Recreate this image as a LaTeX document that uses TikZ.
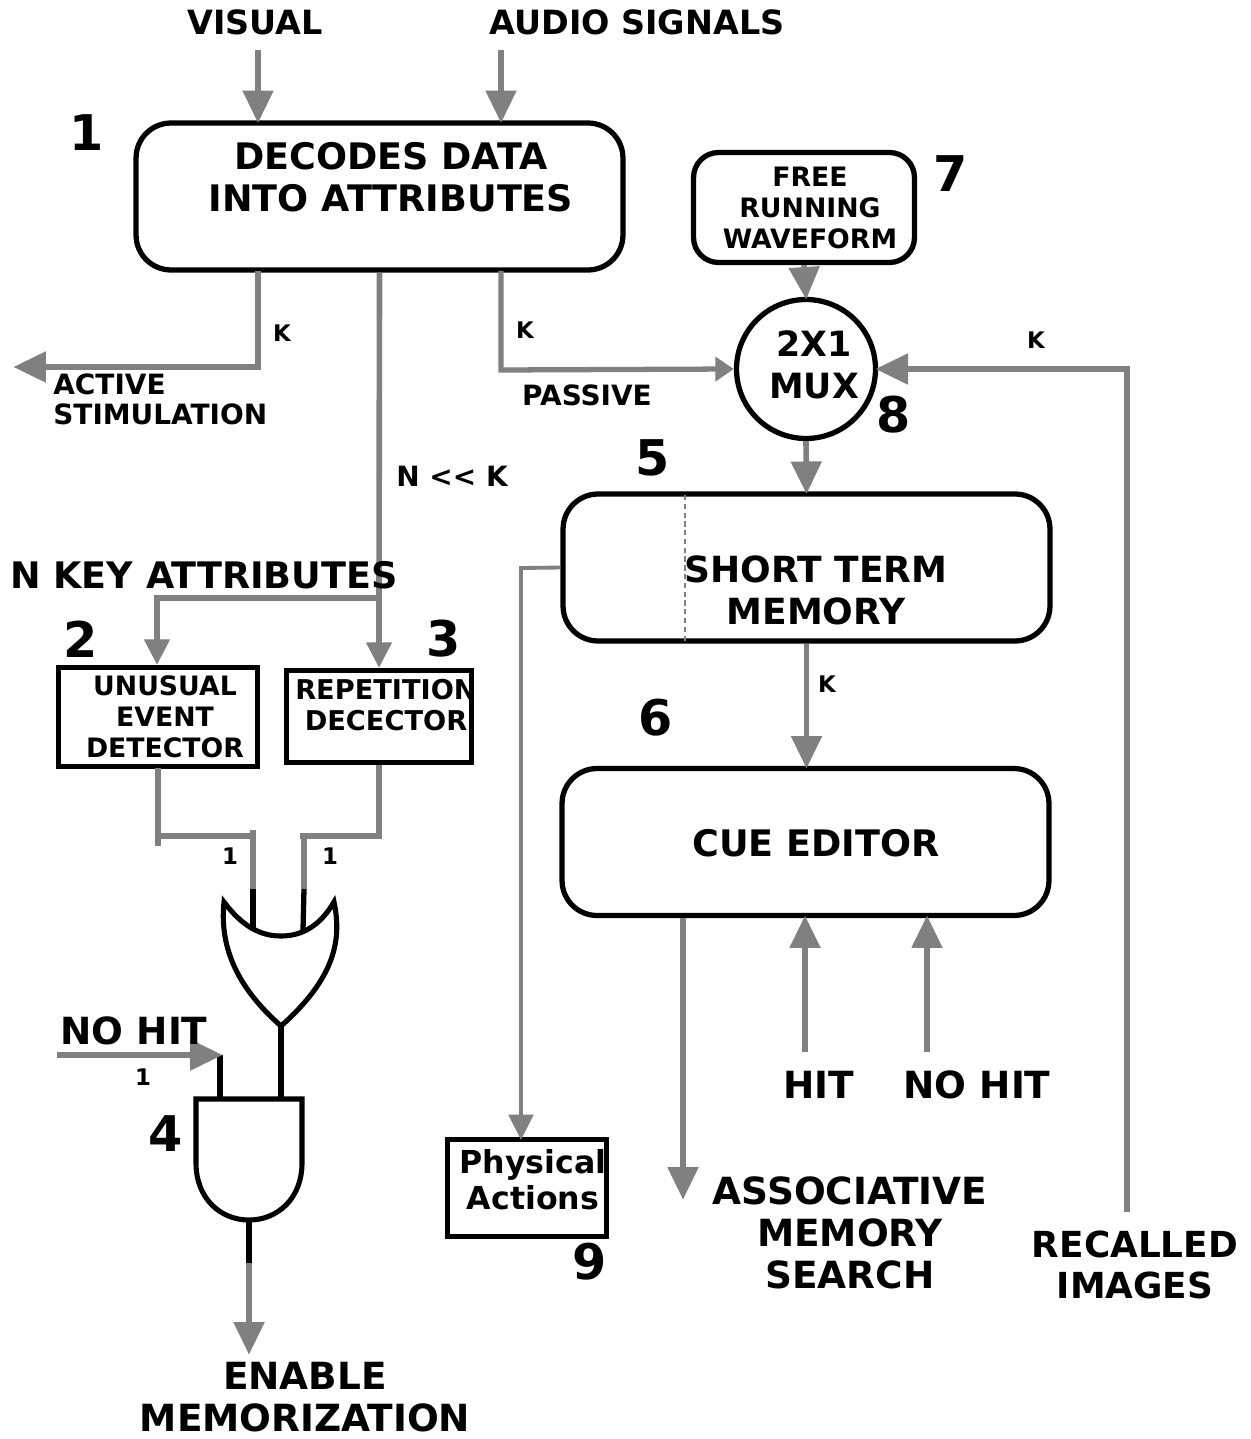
\documentclass[tikz,border=0pt]{standalone}
\usepackage{fontspec}
\setmainfont{DejaVu Sans}
\usetikzlibrary{arrows.meta}
\definecolor{wiregray}{HTML}{808080}
\tikzset{
  txtbig/.style={font=\bfseries\fontsize{20.8}{23.8}\selectfont,align=center,inner sep=0pt},
  txtwide/.style={font=\bfseries\fontsize{21.3}{23.8}\selectfont,align=center,inner sep=0pt},
  txtmux/.style={font=\bfseries\fontsize{19.8}{23.8}\selectfont,align=center,inner sep=0pt},
  txtmid/.style={font=\bfseries\fontsize{19}{20.4}\selectfont,align=center,inner sep=0pt},
  txtphys/.style={font=\bfseries\fontsize{18}{20.4}\selectfont,align=center,inner sep=0pt},
  txtsmall/.style={font=\bfseries\fontsize{15.9}{17.2}\selectfont,align=center,inner sep=0pt},
  txtbox/.style={font=\bfseries\fontsize{15.2}{17.5}\selectfont,align=center,inner sep=0pt},
  txttiny/.style={font=\bfseries\fontsize{13}{15}\selectfont,inner sep=0pt},
  txtnum/.style={font=\bfseries\fontsize{28}{30}\selectfont,inner sep=0pt},
  roundbox/.style={draw,line width=3pt,rounded corners=0.7cm,minimum width=9.74cm,minimum height=2.94cm,inner sep=0pt},
  sharpbox/.style={draw,line width=3pt,inner sep=0pt},
  wire/.style={draw=wiregray,line width=3.2pt},
  thinwire/.style={draw=wiregray,line width=2.2pt},
  blackwire/.style={draw=black,line width=3pt},
  bigarrow/.style={wire,shorten >=-1.5pt,-{Triangle[length=18.5pt,width=17pt]}},
  midarrow/.style={thinwire,-{Triangle[length=14.5pt,width=14pt]}},
  smallarrow/.style={thinwire,-{Triangle[length=10.5pt,width=13.5pt]}},
  gate/.style={draw=black,line width=2.9pt,line join=miter}
}
\begin{document}
\begin{tikzpicture}[x=0.02cm,y=-0.02cm]
    \useasboundingbox (0,0) rectangle (1250,1439);

    % boxes
    \node[roundbox] (nDecode) at (379.5,196.5) {};
    \node[roundbox,rounded corners=0.5cm,minimum width=4.42cm,minimum height=2.2cm] (nFree) at (804,207.5) {};
    \node[draw,circle,line width=3pt,minimum size=2.78cm,inner sep=0pt] (nMux) at (806,369) {};
    \node[roundbox] (nStm) at (806.5,567.5) {};
    \node[roundbox] (nCue) at (805.5,842) {};
    \node[sharpbox,minimum width=3.98cm,minimum height=1.98cm] (nUnusual) at (158,717) {};
    \node[sharpbox,minimum width=3.7cm,minimum height=1.84cm] (nRepeat) at (379,716.5) {};
    \node[sharpbox,minimum width=3.18cm,minimum height=1.94cm] (nPhysical) at (527,1188) {};

    % free ends
    \coordinate (cVisual) at (258,50);
    \coordinate (cAudio) at (501,50);
    \coordinate (cActiveOut) at (258,271);
    \coordinate (cActiveBend) at (258,367);
    \coordinate (cActiveEnd) at (16,367);
    \coordinate (cPassOut) at (501,271);
    \coordinate (cPassBend) at (501,370);
    \coordinate (cRecall) at (1127,1212);
    \coordinate (cRecallBend) at (1127,369);
    \coordinate (cStmOut) at (521,568);
    \coordinate (cPhysIn) at (521,1140);
    \coordinate (cSearch) at (683,1197);
    \coordinate (cHit) at (805,1052);
    \coordinate (cNoHit) at (927,1052);
    \coordinate (cSplit) at (379,598);
    \coordinate (cKeyBend) at (157,598);
    \coordinate (cOrA) at (253,889);
    \coordinate (cOrB) at (304,889);
    \coordinate (cOrATop) at (253,830);
    \coordinate (cOrBTop) at (304,836);
    \coordinate (cOrIn) at (281,1026);
    \coordinate (cAndOut) at (249,1220);
    \coordinate (cEnable) at (249,1263);
    \coordinate (cEnableEnd) at (249,1352);
    \coordinate (cNoHitIn) at (57,1055);
    \coordinate (cNoHitEnd) at (220,1055);

    % gates
    \draw[gate] (224,902) .. controls (242,926) and (260,936) .. (281,936)
      .. controls (302,936) and (320,926) .. (334,902)
      .. controls (342,940) and (335,978) .. (281,1026)
      .. controls (240,990) and (219,950) .. (224,902) -- cycle;
    \draw[gate] (196,1099) -- (302,1099) -- (302,1163)
      .. controls (302,1198) and (278,1220) .. (249,1220)
      .. controls (220,1220) and (196,1198) .. (196,1163) -- cycle;

    % black leads of the gates
    \draw[blackwire] (cOrA) -- (253,930);
    \draw[blackwire] (cOrB) -- (303,930);
    \draw[blackwire] (cOrIn) -- (281,1099);
    \draw[blackwire] (220,1055) -- (220,1099);
    \draw[blackwire] (cAndOut) -- (cEnable);

    % wires
    \foreach \from/\to in {cVisual/nDecode,cAudio/nDecode}
      \draw[bigarrow] (\from) -- (\from |- \to.north);
    \draw[bigarrow] (cActiveOut) -- (cActiveBend) -- (cActiveEnd);
    \draw[wire] (nDecode.south) -- (cSplit);
    \draw[midarrow,line width=3.2pt] (cSplit) -- (cSplit |- nRepeat.north);
    \draw[midarrow,line width=3.2pt] (cSplit) -- (cKeyBend) -- (cKeyBend |- nUnusual.north);
    \draw[smallarrow,line width=3pt] (cPassOut) -- (cPassBend) -- (nMux.west);
    \draw[bigarrow] (nFree.south) -- (nMux.north);
    \draw[bigarrow] (cRecall) -- (cRecallBend) -- (nMux.east);
    \draw[bigarrow] (nMux.south) -- (nStm.north);
    \draw[bigarrow] (nStm.south) -- (nStm.south |- nCue.north);
    \draw[midarrow] (nStm.west) -- (cStmOut) -- (cPhysIn);
    \draw[bigarrow] (cSearch |- nCue.south) -- (cSearch);
    \foreach \from in {cHit,cNoHit}
      \draw[bigarrow] (\from) -- (\from |- nCue.south);
    \draw[wire] (158,768) -- (158,846);
    \draw[wire] (158,836) -- (253,836);
    \draw[wire] (cOrATop) -- (cOrA);
    \draw[wire] (nRepeat.south) -- (379,836) -- (300,836);
    \draw[wire] (cOrBTop) -- (cOrB);
    \draw[bigarrow] (cNoHitIn) -- (cNoHitEnd);
    \draw[bigarrow] (cEnable) -- (cEnableEnd);
    \draw[densely dashed,draw=wiregray,line width=0.7pt] (685,495) -- (685,641);

    % texts
    \node[txtmid] (tVisual) at (255,22) {VISUAL};
    \node[txtmid] (tAudio) at (637,22) {AUDIO SIGNALS};
    \node[txtbig] (tDecode) at (391,177) {DECODES DATA\\INTO ATTRIBUTES};
    \node[txtbox] (tFree) at (810,208) {FREE\\RUNNING\\WAVEFORM};
    \node[txtmux] (tMux) at (814,365) {2X1\\MUX};
    \node[txtsmall,align=left,anchor=west] (tActive) at (53,399) {ACTIVE\\STIMULATION};
    \node[txtsmall] (tPassive) at (587,395) {PASSIVE};
    \node[txtsmall] (tNk) at (452,476) {N {<}{<} K};
    \node[txtmux,font=\bfseries\fontsize{20.5}{23.8}\selectfont] (tStm) at (816,590) {SHORT TERM\\MEMORY};
    \node[txtbig] (tCue) at (816,843) {CUE EDITOR};
    \node[txtbig] (tKey) at (204,575) {N KEY ATTRIBUTES};
    \node[txtbox] (tUnusual) at (165,717) {UNUSUAL\\EVENT\\DETECTOR};
    \node[txtbox,font=\bfseries\fontsize{15.5}{17.5}\selectfont] (tRepeat) at (386,705) {REPETITION\\DECECTOR};
    \node[txtwide] (tNoHitA) at (134,1031) {NO HIT};
    \node[txtphys] (tPhysical) at (533,1180) {Physical\\Actions};
    \node[txtwide] (tHit) at (819,1085) {HIT};
    \node[txtwide] (tNoHitB) at (977,1085) {NO HIT};
    \node[txtwide] (tSearch) at (850,1233) {ASSOCIATIVE\\MEMORY\\SEARCH};
    \node[txtmux,font=\bfseries\fontsize{20.4}{23.8}\selectfont] (tRecall) at (1135,1265) {RECALLED\\IMAGES};
    \node[txtwide] (tEnable) at (305,1397) {ENABLE\\MEMORIZATION};

    % small labels
    \foreach \x/\y/\lab in {282/333/K,525/330/K,1036/340/K,827/684/K,230/856/1,330/856/1,143/1077/1}
      \node[txttiny] at (\x,\y) {\lab};

    % numbers
    \foreach \x/\y/\lab in {87/133/1,81/639/2,444/639/3,166/1134/4,653/458/5,656/718/6,951/174/7,894/415/8,590/1262/9}
      \node[txtnum] at (\x,\y) {\lab};
\end{tikzpicture}
\end{document}
